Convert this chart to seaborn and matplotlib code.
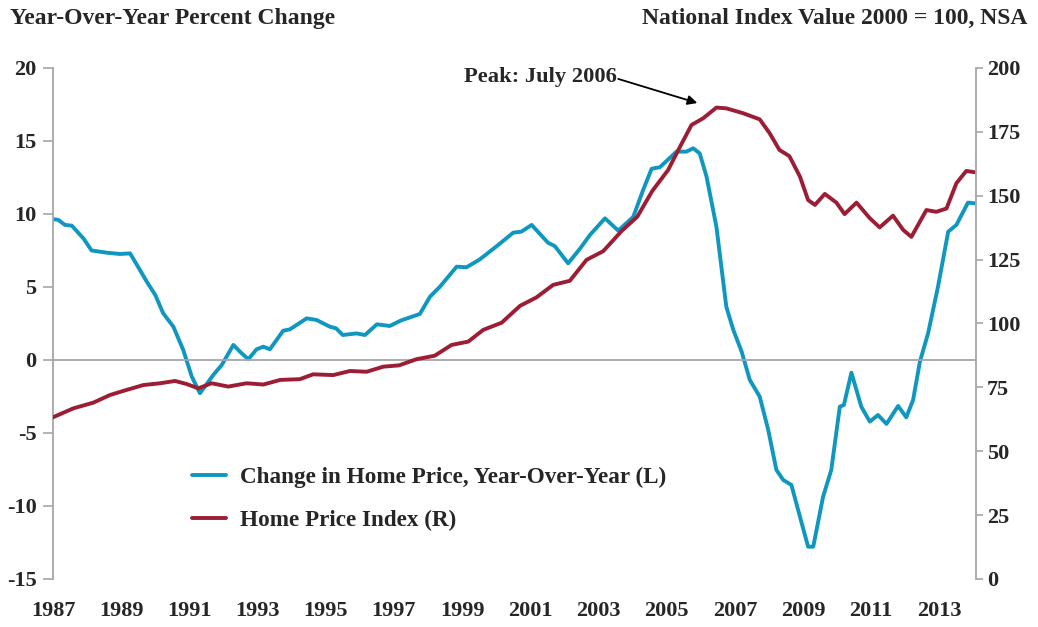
import numpy as np
import pandas as pd
import matplotlib.pyplot as plt
import seaborn as sns

# ------------------------------------------------------------
# Datos
# ------------------------------------------------------------
yoy_years = [1987.0, 1987.15, 1987.35, 1987.55, 1987.9, 1988.13, 1988.57, 1988.96,
             1989.26, 1989.55, 1989.75, 1990.0, 1990.23, 1990.53, 1990.82, 1991.07,
             1991.31, 1991.7, 1991.95, 1992.29, 1992.53, 1992.73, 1992.97, 1993.17,
             1993.36, 1993.75, 1993.95, 1994.44, 1994.73, 1995.12, 1995.3, 1995.5,
             1995.9, 1996.15, 1996.5, 1996.88, 1997.2, 1997.76, 1998.06, 1998.35,
             1998.84, 1999.13, 1999.52, 2000.06, 2000.5, 2000.74, 2001.04, 2001.52,
             2001.72, 2002.11, 2002.45, 2002.75, 2003.19, 2003.58, 2004.02, 2004.31,
             2004.56, 2004.8, 2005.29, 2005.58, 2005.78, 2005.97, 2006.17, 2006.46,
             2006.75, 2006.95, 2007.2, 2007.44, 2007.73, 2007.98, 2008.22, 2008.42,
             2008.66, 2008.91, 2009.15, 2009.3, 2009.59, 2009.83, 2010.08, 2010.2,
             2010.42, 2010.71, 2010.96, 2011.2, 2011.45, 2011.79, 2012.03, 2012.23,
             2012.43, 2012.67, 2012.96, 2013.26, 2013.5, 2013.84, 2014.03]
yoy_values = [9.64, 9.6, 9.25, 9.2, 8.3, 7.5, 7.35, 7.26,
              7.3, 6.16, 5.36, 4.45, 3.2, 2.28, 0.68, -1.14,
              -2.28, -1.03, -0.34, 1.03, 0.46, 0.05, 0.73, 0.91,
              0.73, 2.0, 2.1, 2.85, 2.74, 2.28, 2.17, 1.71,
              1.82, 1.71, 2.44, 2.33, 2.7, 3.15, 4.34, 5.02,
              6.39, 6.35, 6.89, 7.88, 8.72, 8.79, 9.25, 8.03,
              7.8, 6.62, 7.6, 8.56, 9.7, 8.86, 9.8, 11.64,
              13.1, 13.2, 14.27, 14.27, 14.5, 14.15, 12.56, 9.13,
              3.65, 2.1, 0.57, -1.37, -2.51, -4.79, -7.53, -8.22,
              -8.56, -10.73, -12.79, -12.79, -9.36, -7.53, -3.2, -3.08,
              -0.87, -3.2, -4.22, -3.77, -4.38, -3.15, -3.93, -2.74,
              -0.11, 1.83, 5.02, 8.79, 9.25, 10.78, 10.73]

hpi_years = [1987.0, 1987.6, 1988.18, 1988.67, 1989.16, 1989.65, 1990.14, 1990.58,
             1990.92, 1991.26, 1991.65, 1992.14, 1992.68, 1993.17, 1993.66, 1994.24,
             1994.63, 1995.22, 1995.71, 1996.2, 1996.69, 1997.15, 1997.66, 1998.2,
             1998.69, 1999.18, 1999.62, 2000.16, 2000.7, 2001.18, 2001.67, 2002.16,
             2002.65, 2003.14, 2003.68, 2004.14, 2004.58, 2005.04, 2005.39, 2005.73,
             2006.07, 2006.46, 2006.75, 2007.24, 2007.73, 2008.02, 2008.31, 2008.6,
             2008.91, 2009.15, 2009.35, 2009.64, 2009.98, 2010.22, 2010.57, 2010.96,
             2011.25, 2011.64, 2011.94, 2012.18, 2012.62, 2012.91, 2013.21, 2013.5,
             2013.79, 2014.03]
hpi_values = [63.3, 66.8, 69.0, 72.0, 74.0, 75.9, 76.6, 77.5,
              76.3, 74.6, 76.6, 75.3, 76.6, 76.1, 77.9, 78.2,
              80.1, 79.8, 81.4, 81.1, 83.1, 83.6, 86.0, 87.4,
              91.6, 92.9, 97.5, 100.3, 106.9, 110.2, 115.1, 116.7,
              124.9, 128.3, 136.2, 141.8, 151.9, 160.0, 169.1, 177.7,
              180.3, 184.5, 184.2, 182.3, 179.9, 174.5, 167.9, 165.5,
              157.5, 148.3, 146.4, 150.7, 147.3, 142.8, 147.3, 141.2,
              137.6, 142.2, 136.6, 133.9, 144.4, 143.7, 145.0, 154.9,
              159.7, 159.2]

yoy_label = 'Change in Home Price, Year-Over-Year (L)'
hpi_label = 'Home Price Index (R)'
year_ticks = list(range(1987, 2014, 2))
left_ticks = [-15, -10, -5, 0, 5, 10, 15, 20]
right_ticks = [0, 25, 50, 75, 100, 125, 150, 175, 200]

df_yoy = pd.DataFrame({'anio': yoy_years, 'valor': yoy_values})
df_hpi = pd.DataFrame({'anio': hpi_years, 'valor': hpi_values})

# ------------------------------------------------------------
# Estilo
# ------------------------------------------------------------
sns.set_style('white')
plt.rcParams['font.family'] = ['Liberation Serif', 'DejaVu Serif']
plt.rcParams['font.weight'] = 'bold'

teal = '#1097C0'
vino = '#9C1D34'
gris = '#A6A6A6'
fs = 16

fig = plt.figure(figsize=(10.38, 6.27), dpi=100)
ax = fig.add_axes([0.0511, 0.0766, 0.889, 0.815])
ax2 = ax.twinx()

estilo = dict(lw=2.8, solid_joinstyle='round', solid_capstyle='round', legend=False)
sns.lineplot(data=df_yoy, x='anio', y='valor', ax=ax, color=teal, label=yoy_label, **estilo)
sns.lineplot(data=df_hpi, x='anio', y='valor', ax=ax2, color=vino, label=hpi_label, **estilo)

ax.set_xlim(1987, 2014.07)
ax.set_ylim(-15, 20)
ax2.set_ylim(0, 200)
ax.set_yticks(left_ticks)
ax.set_yticklabels([str(v) for v in left_ticks])
ax2.set_yticks(right_ticks)
ax.set_xlabel('')
ax.set_ylabel('')
ax2.set_ylabel('')

# eje x en cero con ticks anuales
ax.spines['bottom'].set_position(('data', 0))
ax.set_xticks(range(1987, 2015))
ax.tick_params(axis='x', direction='out', length=7, width=1.2, color=gris, labelbottom=False)
for a in (ax, ax2):
    a.spines['top'].set_visible(False)
    for s in ('left', 'right', 'bottom'):
        a.spines[s].set_color(gris)
        a.spines[s].set_linewidth(1.3)
ax2.spines['bottom'].set_visible(False)
ax.spines['right'].set_visible(False)
ax2.spines['left'].set_visible(False)

ax.tick_params(axis='y', direction='out', length=7, width=1.2, color=gris, pad=5, labelsize=fs)
ax2.tick_params(axis='y', direction='out', length=5, width=1.2, color=gris, pad=3, labelsize=fs)

# etiquetas de años en la parte inferior
sec = ax.secondary_xaxis(0)
sec.set_xticks(year_ticks)
sec.set_xticklabels([str(y) for y in year_ticks])
sec.tick_params(length=0, pad=16, labelsize=fs)
sec.spines['bottom'].set_visible(False)

# titulos de ejes
fig.text(0.0096, 0.970, 'Year-Over-Year Percent Change', fontsize=17, fontweight='bold', ha='left', va='center')
fig.text(0.990, 0.970, 'National Index Value 2000 = 100, NSA', fontsize=17, fontweight='bold', ha='right', va='center')

# anotacion del pico
ax.text(2003.53, 19.4, 'Peak: July 2006', fontsize=16.2, fontweight='bold', ha='right', va='center')
ax.annotate('', xy=(2005.9, 17.6), xytext=(2003.58, 19.25),
            arrowprops=dict(arrowstyle='-|>', color='black', lw=1.3, mutation_scale=14, shrinkA=0, shrinkB=0))

# leyenda
h1, l1 = ax.get_legend_handles_labels()
h2, l2 = ax2.get_legend_handles_labels()
leg = ax2.legend(h1 + h2, l1 + l2, loc='lower left', bbox_to_anchor=(0.128, 0.052),
                 frameon=False, handlelength=1.45, handletextpad=0.6,
                 labelspacing=0.95, prop={'weight': 'bold', 'size': 16.7})

fig.savefig('out.png', dpi=100)
